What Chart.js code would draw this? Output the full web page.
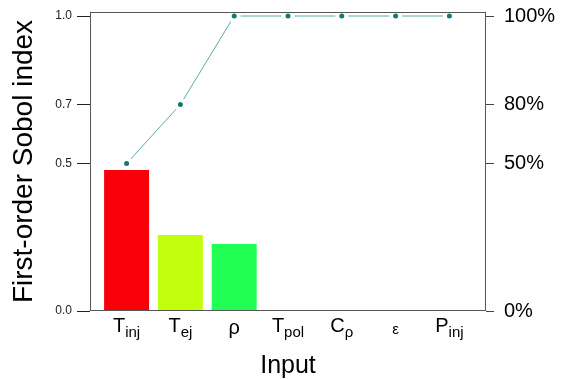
<!DOCTYPE html>
<html>
<head>
<meta charset="utf-8">
<script src="https://cdn.jsdelivr.net/npm/chart.js@4"></script>
<style>
  html, body { margin: 0; padding: 0; background: #fff; }
  canvas { display: block; }
</style>
</head>
<body>
<canvas id="sobolChart" width="564" height="379"></canvas>
<script>
// Données
const inputNames = ['T', 'T', 'ρ', 'T', 'C', '', 'P'];
const inputSubs = ['inj', 'ej', '', 'pol', 'ρ', 'ε', 'inj'];
const sobolValues = [0.478, 0.258, 0.227, 0, 0, 0, 0];
const cumulValues = [0.5, 0.7, 1.0, 1.0, 1.0, 1.0, 1.0];
const leftTicks = [0, 0.5, 0.7, 1.0];
const leftTickLabels = ['0.0', '0.5', '0.7', '1.0'];
const rightTickLabels = ['0%', '50%', '80%', '100%'];
const barColors = ['#f8000a', '#c3fe0f', '#21fe54', '#888888', '#888888', '#888888', '#888888'];

const FONT = "'Liberation Sans', Arial, Helvetica, sans-serif";

// Cadre autour de la zone du graphique
const boxPlugin = {
    id: 'box',
    afterDatasetsDraw(chart) {
        const a = chart.chartArea;
        const ctx = chart.ctx;
        ctx.save();
        ctx.strokeStyle = '#555';
        ctx.lineWidth = 1;
        ctx.strokeRect(Math.round(a.left) + 0.5, Math.round(a.top) + 0.5,
            Math.round(a.right - a.left) - 1, Math.round(a.bottom - a.top) - 1);
        ctx.restore();
    }
};

// Libellés de l'axe x avec indices
const xLabelsPlugin = {
    id: 'xLabels',
    afterDraw(chart) {
        const ctx = chart.ctx;
        const xs = chart.scales.x;
        ctx.save();
        ctx.fillStyle = '#000';
        ctx.textBaseline = 'alphabetic';
        ctx.textAlign = 'left';
        inputNames.forEach((name, i) => {
            const sub = inputSubs[i];
            ctx.font = '20px ' + FONT;
            const w1 = ctx.measureText(name).width;
            ctx.font = '15px ' + FONT;
            const w2 = ctx.measureText(sub).width;
            const x0 = xs.getPixelForValue(i) - (w1 + w2) / 2;
            ctx.font = '20px ' + FONT;
            ctx.fillText(name, x0, name === 'ρ' ? 334 : 332);
            ctx.font = '15px ' + FONT;
            ctx.fillText(sub, x0 + w1, name ? 337 : 334);
        });
        ctx.restore();
    }
};

function noPadding(scale) {
    scale.paddingTop = 0;
    scale.paddingBottom = 0;
    scale.paddingLeft = 0;
    scale.paddingRight = 0;
}

const ctx = document.getElementById('sobolChart');

new Chart(ctx, {
    data: {
        datasets: [
            {
                type: 'line',
                data: cumulValues.map((v, i) => ({ x: i, y: v })),
                borderColor: '#5aaba6',
                borderWidth: 1,
                pointRadius: 4.5,
                pointBorderWidth: 4,
                pointBorderColor: '#ffffff',
                pointBackgroundColor: '#137a73',
                yAxisID: 'y',
                order: 0
            },
            {
                type: 'bar',
                data: sobolValues.map((v, i) => ({ x: i, y: v })),
                backgroundColor: barColors,
                borderWidth: 0,
                barPercentage: 0.836,
                categoryPercentage: 1,
                yAxisID: 'y',
                order: 1
            }
        ]
    },
    options: {
        responsive: false,
        animation: false,
        layout: { padding: { top: 12, left: 0, right: 0, bottom: 0 } },
        plugins: {
            legend: { display: false },
            tooltip: { enabled: false }
        },
        scales: {
            x: {
                type: 'linear',
                offset: false,
                min: -0.68,
                max: 6.68,
                grid: { display: false },
                border: { display: false },
                ticks: { display: false },
                title: {
                    display: true,
                    text: 'Input',
                    color: '#000',
                    font: { family: FONT, size: 25, lineHeight: 1.0 },
                    padding: { top: 0, bottom: 0 }
                },
                afterFit(scale) { noPadding(scale); scale.height = 68; }
            },
            y: {
                position: 'left',
                min: 0,
                max: 1.0136,
                grid: { drawOnChartArea: false, tickLength: 13, color: '#222' },
                border: { display: false },
                ticks: {
                    padding: 5,
                    color: '#222',
                    font: { family: FONT, size: 12 },
                    callback: (v, i) => leftTickLabels[i]
                },
                afterBuildTicks(scale) { scale.ticks = leftTicks.map(v => ({ value: v })); },
                title: {
                    display: true,
                    text: 'First-order Sobol index',
                    color: '#000',
                    font: { family: FONT, size: 28 },
                    padding: { top: 7, bottom: 0 }
                },
                afterFit(scale) { noPadding(scale); scale.width = 90; }
            },
            y2: {
                position: 'right',
                min: 0,
                max: 1.0136,
                grid: { drawOnChartArea: false, tickLength: 8, color: '#444' },
                border: { display: false },
                ticks: {
                    padding: 10,
                    color: '#000',
                    font: { family: FONT, size: 20 },
                    callback: (v, i) => rightTickLabels[i]
                },
                afterBuildTicks(scale) { scale.ticks = leftTicks.map(v => ({ value: v })); },
                afterFit(scale) { noPadding(scale); scale.width = 78; }
            }
        }
    },
    plugins: [boxPlugin, xLabelsPlugin]
});
</script>
</body>
</html>
